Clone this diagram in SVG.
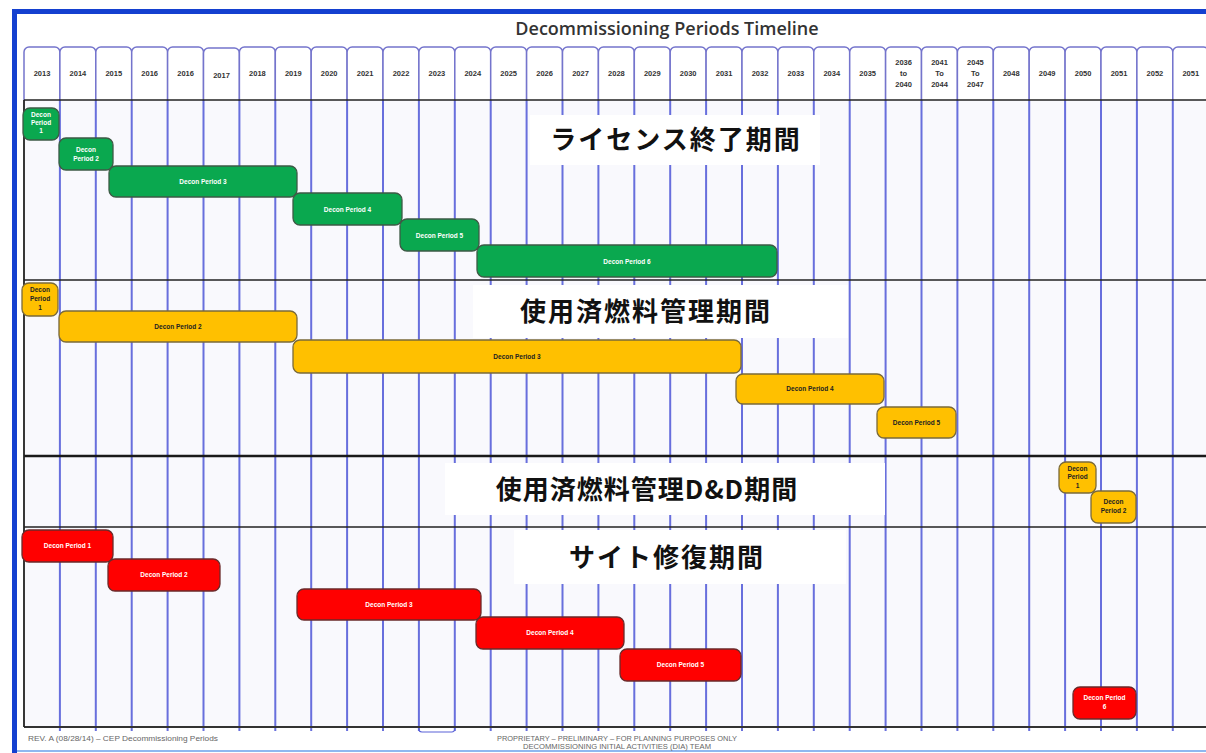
<svg xmlns="http://www.w3.org/2000/svg" width="1206" height="753" viewBox="0 0 1206 753">
<style>
.hc{fill:#ffffff;stroke:#7474cc;stroke-width:1.5}
.yr{font-family:"Liberation Sans",Arial,sans-serif;font-weight:700;font-size:7.5px;fill:#333;text-anchor:middle}
.vg{stroke:#4f58d8;stroke-width:2;opacity:.85}
.hl{stroke:#222;stroke-width:1.5}
.lb{fill:#ffffff}
.jp{font-family:"Noto Sans CJK JP","Noto Sans",sans-serif;font-weight:700;font-size:26px;fill:#111;text-anchor:middle}
.g{fill:#0aa84f;stroke:#3d5a45;stroke-width:1.3}
.y{fill:#ffc000;stroke:#7a6a3a;stroke-width:1.3}
.r{fill:#ff0000;stroke:#6a2a2a;stroke-width:1.3}
.tw{font-family:"Liberation Sans",Arial,sans-serif;font-weight:700;font-size:6.5px;fill:#ffffff;text-anchor:middle}
.tb{font-family:"Liberation Sans",Arial,sans-serif;font-weight:700;font-size:6.5px;fill:#222;text-anchor:middle}
.ft{font-family:"Liberation Sans",Arial,sans-serif;font-size:6.8px;fill:#666}
</style>
<rect x="0" y="0" width="1206" height="753" fill="#ffffff"/>
<g id="frame">
<rect x="12" y="9" width="1194" height="5" fill="#1440d0"/>
<rect x="12" y="9" width="5" height="744" fill="#1440d0"/>
<line x1="17" y1="751" x2="1206" y2="751" stroke="#8fb8f0" stroke-width="2"/>
</g>
<text id="title" x="667" y="35" font-family="'Open Sans','Liberation Sans',sans-serif" font-size="18" font-weight="600" fill="#333" text-anchor="middle">Decommissioning Periods Timeline</text>
<rect x="24" y="100" width="1182" height="627" fill="#f9f9fd"/>
<g id="header">
<path class="hc" d="M24 100V52a5 5 0 0 1 5-5H54.9a5 5 0 0 1 5 5V100"/>
<path class="hc" d="M59.9 100V52a5 5 0 0 1 5-5H90.8a5 5 0 0 1 5 5V100"/>
<path class="hc" d="M95.8 100V52a5 5 0 0 1 5-5H126.7a5 5 0 0 1 5 5V100"/>
<path class="hc" d="M131.7 100V52a5 5 0 0 1 5-5H162.6a5 5 0 0 1 5 5V100"/>
<path class="hc" d="M167.6 100V52a5 5 0 0 1 5-5H198.5a5 5 0 0 1 5 5V100"/>
<path class="hc" d="M203.5 101V53a5 5 0 0 1 5-5H234.4a5 5 0 0 1 5 5V101"/>
<path class="hc" d="M239.4 100V52a5 5 0 0 1 5-5H270.3a5 5 0 0 1 5 5V100"/>
<path class="hc" d="M275.3 100V52a5 5 0 0 1 5-5H306.2a5 5 0 0 1 5 5V100"/>
<path class="hc" d="M311.2 100V52a5 5 0 0 1 5-5H342.1a5 5 0 0 1 5 5V100"/>
<path class="hc" d="M347.1 100V52a5 5 0 0 1 5-5H378a5 5 0 0 1 5 5V100"/>
<path class="hc" d="M383 100V52a5 5 0 0 1 5-5H413.9a5 5 0 0 1 5 5V100"/>
<path class="hc" d="M418.9 100V52a5 5 0 0 1 5-5H449.8a5 5 0 0 1 5 5V100"/>
<path class="hc" d="M454.8 100V52a5 5 0 0 1 5-5H485.7a5 5 0 0 1 5 5V100"/>
<path class="hc" d="M490.7 100V52a5 5 0 0 1 5-5H521.6a5 5 0 0 1 5 5V100"/>
<path class="hc" d="M526.6 100V52a5 5 0 0 1 5-5H557.5a5 5 0 0 1 5 5V100"/>
<path class="hc" d="M562.5 100V52a5 5 0 0 1 5-5H593.4a5 5 0 0 1 5 5V100"/>
<path class="hc" d="M598.4 100V52a5 5 0 0 1 5-5H629.3a5 5 0 0 1 5 5V100"/>
<path class="hc" d="M634.3 100V52a5 5 0 0 1 5-5H665.2a5 5 0 0 1 5 5V100"/>
<path class="hc" d="M670.2 100V52a5 5 0 0 1 5-5H701.1a5 5 0 0 1 5 5V100"/>
<path class="hc" d="M706.1 100V52a5 5 0 0 1 5-5H737a5 5 0 0 1 5 5V100"/>
<path class="hc" d="M742 100V52a5 5 0 0 1 5-5H772.9a5 5 0 0 1 5 5V100"/>
<path class="hc" d="M777.9 100V52a5 5 0 0 1 5-5H808.8a5 5 0 0 1 5 5V100"/>
<path class="hc" d="M813.8 100V52a5 5 0 0 1 5-5H844.7a5 5 0 0 1 5 5V100"/>
<path class="hc" d="M849.7 100V52a5 5 0 0 1 5-5H880.6a5 5 0 0 1 5 5V100"/>
<path class="hc" d="M885.6 100V52a5 5 0 0 1 5-5H916.5a5 5 0 0 1 5 5V100"/>
<path class="hc" d="M921.5 100V52a5 5 0 0 1 5-5H952.4a5 5 0 0 1 5 5V100"/>
<path class="hc" d="M957.4 100V52a5 5 0 0 1 5-5H988.3a5 5 0 0 1 5 5V100"/>
<path class="hc" d="M993.3 100V52a5 5 0 0 1 5-5H1024.2a5 5 0 0 1 5 5V100"/>
<path class="hc" d="M1029.2 100V52a5 5 0 0 1 5-5H1060.1a5 5 0 0 1 5 5V100"/>
<path class="hc" d="M1065.1 100V52a5 5 0 0 1 5-5H1096a5 5 0 0 1 5 5V100"/>
<path class="hc" d="M1101 100V52a5 5 0 0 1 5-5H1131.9a5 5 0 0 1 5 5V100"/>
<path class="hc" d="M1136.9 100V52a5 5 0 0 1 5-5H1167.8a5 5 0 0 1 5 5V100"/>
<path class="hc" d="M1172.8 100V52a5 5 0 0 1 5-5H1203.7a5 5 0 0 1 5 5V100"/>
<text class="yr" x="42" y="76">2013</text>
<text class="yr" x="77.9" y="76">2014</text>
<text class="yr" x="113.8" y="76">2015</text>
<text class="yr" x="149.7" y="76">2016</text>
<text class="yr" x="185.6" y="76">2016</text>
<text class="yr" x="221.5" y="78">2017</text>
<text class="yr" x="257.4" y="76">2018</text>
<text class="yr" x="293.3" y="76">2019</text>
<text class="yr" x="329.2" y="76">2020</text>
<text class="yr" x="365.1" y="76">2021</text>
<text class="yr" x="401" y="76">2022</text>
<text class="yr" x="436.9" y="76">2023</text>
<text class="yr" x="472.8" y="76">2024</text>
<text class="yr" x="508.7" y="76">2025</text>
<text class="yr" x="544.6" y="76">2026</text>
<text class="yr" x="580.5" y="76">2027</text>
<text class="yr" x="616.4" y="76">2028</text>
<text class="yr" x="652.3" y="76">2029</text>
<text class="yr" x="688.2" y="76">2030</text>
<text class="yr" x="724.1" y="76">2031</text>
<text class="yr" x="760" y="76">2032</text>
<text class="yr" x="795.9" y="76">2033</text>
<text class="yr" x="831.8" y="76">2034</text>
<text class="yr" x="867.7" y="76">2035</text>
<text class="yr" x="903.6" y="65">2036</text>
<text class="yr" x="903.6" y="76">to</text>
<text class="yr" x="903.6" y="87">2040</text>
<text class="yr" x="939.5" y="65">2041</text>
<text class="yr" x="939.5" y="76">To</text>
<text class="yr" x="939.5" y="87">2044</text>
<text class="yr" x="975.4" y="65">2045</text>
<text class="yr" x="975.4" y="76">To</text>
<text class="yr" x="975.4" y="87">2047</text>
<text class="yr" x="1011.3" y="76">2048</text>
<text class="yr" x="1047.2" y="76">2049</text>
<text class="yr" x="1083.1" y="76">2050</text>
<text class="yr" x="1119" y="76">2051</text>
<text class="yr" x="1154.9" y="76">2052</text>
<text class="yr" x="1190.8" y="76">2051</text>
</g>
<g id="grid">
<path class="vg" d="M59.9 100V731M95.8 100V731M131.7 100V731M167.6 100V731M203.5 100V731M239.4 100V731M275.3 100V731M311.2 100V731M347.1 100V731M383 100V731M418.9 100V731M454.8 100V731M490.7 100V731M526.6 100V731M562.5 100V731M598.4 100V731M634.3 100V731M670.2 100V731M706.1 100V731M742 100V731M777.9 100V731M813.8 100V731M849.7 100V731M885.6 100V731M921.5 100V731M957.4 100V731M993.3 100V731M1029.2 100V731M1065.1 100V731M1101 100V731M1136.9 100V731M1172.8 100V731"/>
<path d="M418.9 727v2a3 3 0 0 0 3 3H451.8a3 3 0 0 0 3-3v-2" fill="none" stroke="#5a62d8" stroke-width="1.2"/>
<line class="hl" x1="24" y1="100" x2="1206" y2="100"/>
<line class="hl" x1="24" y1="280" x2="1206" y2="280"/>
<line x1="24" y1="456" x2="1206" y2="456" stroke="#1a1a1a" stroke-width="2.6"/>
<line class="hl" x1="24" y1="527" x2="1206" y2="527"/>
<line x1="24" y1="727" x2="1206" y2="727" stroke="#333" stroke-width="2"/>
<line x1="24" y1="100" x2="24" y2="727" stroke="#222" stroke-width="1.8"/>
</g>
<g id="label-license">
<rect class="lb" x="530" y="115" width="290" height="50"/>
<text class="jp" x="676" y="149" letter-spacing="2">ライセンス終了期間</text>
</g>
<g id="label-spent-fuel">
<rect class="lb" x="473" y="285" width="375" height="53"/>
<text class="jp" x="646" y="321" letter-spacing="2">使用済燃料管理期間</text>
</g>
<g id="label-spent-fuel-dd">
<rect class="lb" x="445" y="463" width="440" height="52"/>
<text class="jp" x="647" y="499" letter-spacing="1">使用済燃料管理D&amp;D期間</text>
</g>
<g id="label-site">
<rect class="lb" x="514" y="530" width="332" height="54"/>
<text class="jp" x="667" y="567" letter-spacing="2">サイト修復期間</text>
</g>
<g id="g1"><rect class="g" x="23" y="108" width="36" height="32" rx="7"/><text class="tw" x="41" y="117">Decon</text><text class="tw" x="41" y="124.5">Period</text><text class="tw" x="41" y="132.5">1</text></g>
<g id="g2"><rect class="g" x="59" y="138" width="54" height="32" rx="7"/><text class="tw" x="86" y="152">Decon</text><text class="tw" x="86" y="161">Period 2</text></g>
<g id="g3"><rect class="g" x="109" y="166" width="188" height="31" rx="7"/><text class="tw" x="203" y="183.5">Decon Period 3</text></g>
<g id="g4"><rect class="g" x="293" y="193" width="109" height="32" rx="7"/><text class="tw" x="347.5" y="211.5">Decon Period 4</text></g>
<g id="g5"><rect class="g" x="400" y="219" width="79" height="32" rx="7"/><text class="tw" x="439.5" y="237.5">Decon Period 5</text></g>
<g id="g6"><rect class="g" x="477" y="245" width="300" height="32" rx="7"/><text class="tw" x="627" y="263.5">Decon Period 6</text></g>
<g id="y1"><rect class="y" x="22" y="283" width="36" height="33" rx="7"/><text class="tb" x="40" y="292">Decon</text><text class="tb" x="40" y="300.5">Period</text><text class="tb" x="40" y="309.5">1</text></g>
<g id="y2"><rect class="y" x="59" y="311" width="238" height="31" rx="7"/><text class="tb" x="178" y="329">Decon Period 2</text></g>
<g id="y3"><rect class="y" x="293" y="340" width="448" height="33" rx="7"/><text class="tb" x="517" y="359">Decon Period 3</text></g>
<g id="y4"><rect class="y" x="736" y="374" width="148" height="30" rx="7"/><text class="tb" x="810" y="391">Decon Period 4</text></g>
<g id="y5"><rect class="y" x="877" y="407" width="79" height="31" rx="7"/><text class="tb" x="916.5" y="425">Decon Period 5</text></g>
<g id="y6"><rect class="y" x="1059" y="462" width="37" height="31" rx="7"/><text class="tb" x="1077.5" y="470.5">Decon</text><text class="tb" x="1077.5" y="479">Period</text><text class="tb" x="1077.5" y="488">1</text></g>
<g id="y7"><rect class="y" x="1091" y="491" width="45" height="32" rx="7"/><text class="tb" x="1113.5" y="504">Decon</text><text class="tb" x="1113.5" y="513">Period 2</text></g>
<g id="r1"><rect class="r" x="22" y="530" width="91" height="32" rx="7"/><text class="tw" x="67.5" y="548">Decon Period 1</text></g>
<g id="r2"><rect class="r" x="108" y="559" width="112" height="32" rx="7"/><text class="tw" x="164" y="577">Decon Period 2</text></g>
<g id="r3"><rect class="r" x="297" y="589" width="184" height="31" rx="7"/><text class="tw" x="389" y="607">Decon Period 3</text></g>
<g id="r4"><rect class="r" x="476" y="617" width="148" height="32" rx="7"/><text class="tw" x="550" y="635">Decon Period 4</text></g>
<g id="r5"><rect class="r" x="620" y="649" width="121" height="32" rx="7"/><text class="tw" x="680.5" y="667">Decon Period 5</text></g>
<g id="r6"><rect class="r" x="1073" y="687" width="63" height="32" rx="7"/><text class="tw" x="1104.5" y="700">Decon Period</text><text class="tw" x="1104.5" y="709">6</text></g>
<g id="footer">
<text class="ft" x="28" y="741" textLength="190" lengthAdjust="spacingAndGlyphs">REV. A (08/28/14) – CEP Decommissioning Periods</text>
<text class="ft" x="617" y="741" text-anchor="middle" textLength="240" lengthAdjust="spacingAndGlyphs">PROPRIETARY – PRELIMINARY – FOR PLANNING PURPOSES ONLY</text>
<text class="ft" x="617" y="748.5" text-anchor="middle" textLength="188" lengthAdjust="spacingAndGlyphs">DECOMMISSIONING INITIAL ACTIVITIES (DIA) TEAM</text>
</g>
</svg>
